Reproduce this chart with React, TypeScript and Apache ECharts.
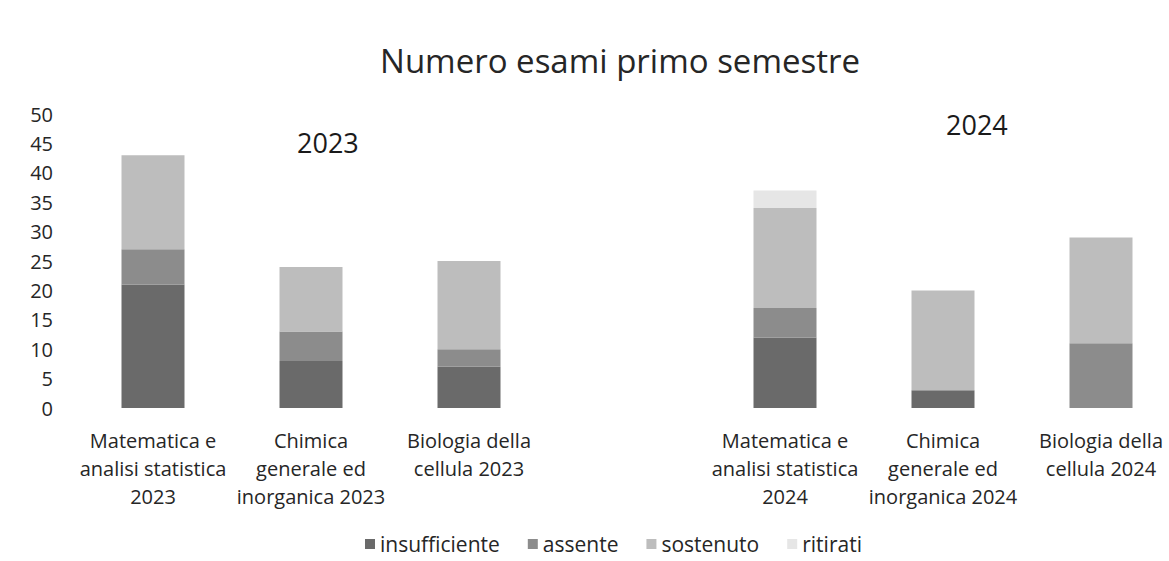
import React, { useEffect, useRef } from "react";
import * as echarts from "echarts";

const categories = [
  "Matematica e\nanalisi statistica\n2023",
  "Chimica\ngenerale ed\ninorganica 2023",
  "Biologia della\ncellula 2023",
  "",
  "Matematica e\nanalisi statistica\n2024",
  "Chimica\ngenerale ed\ninorganica 2024",
  "Biologia della\ncellula 2024",
];
const insufficiente = [21, 8, 7, null, 12, 3, 0];
const assente = [6, 5, 3, null, 5, 0, 11];
const sostenuto = [16, 11, 15, null, 17, 17, 18];
const ritirati = [0, 0, 0, null, 3, 0, 0];
const seriesNames = ["insufficiente", "assente", "sostenuto", "ritirati"];
const seriesColors = ["#6a6a6a", "#8c8c8c", "#bdbdbd", "#e6e6e6"];
const yearLabels = ["2023", "2024"];

const FONT = "'Open Sans', 'Noto Sans', sans-serif";
const TEXT = "#262626";

export default function App() {
  const ref = useRef<HTMLDivElement>(null);
  useEffect(() => {
    document.body.style.margin = "0";
    const chart = echarts.init(ref.current!, null, { renderer: "svg" });
    const values = [insufficiente, assente, sostenuto, ritirati];
    chart.setOption({
      animation: false,
      backgroundColor: "#ffffff",
      title: {
        text: "Numero esami primo semestre",
        left: 615,
        top: 39,
        textAlign: "center",
        textStyle: { fontFamily: FONT, fontSize: 33, fontWeight: "normal", color: TEXT },
      },
      legend: {
        left: 365,
        top: 533,
        padding: 0,
        itemWidth: 10,
        itemHeight: 10,
        itemGap: 28,
        icon: "rect",
        textStyle: { fontFamily: FONT, fontSize: 21, lineHeight: 22, color: TEXT },
        data: seriesNames,
      },
      grid: { left: 74, right: 10, top: 114, bottom: 153 },
      xAxis: {
        type: "category",
        data: categories,
        axisLine: { show: false },
        axisTick: { show: false },
        axisLabel: {
          interval: 0,
          margin: 18,
          fontFamily: FONT,
          fontSize: 20,
          lineHeight: 28,
          color: TEXT,
          align: "center",
        },
      },
      yAxis: {
        type: "value",
        min: 0,
        max: 50,
        interval: 5,
        splitLine: { show: false },
        axisLine: { show: false },
        axisTick: { show: false },
        axisLabel: { fontFamily: FONT, fontSize: 20, color: TEXT, margin: 21 },
      },
      graphic: [
        {
          type: "text",
          left: 297,
          top: 129,
          style: { text: yearLabels[0], fontFamily: FONT, fontSize: 27, fill: "#1a1a1a" },
        },
        {
          type: "text",
          left: 946,
          top: 111,
          style: { text: yearLabels[1], fontFamily: FONT, fontSize: 27, fill: "#1a1a1a" },
        },
      ],
      series: seriesNames.map((name, i) => ({
        name,
        type: "bar",
        stack: "total",
        barWidth: 63,
        itemStyle: { color: seriesColors[i] },
        data: values[i],
      })),
    });
    return () => chart.dispose();
  }, []);
  return (
    <div style={{ width: 1169, height: 561, overflow: "hidden", position: "relative" }}>
      <div ref={ref} style={{ width: 1190, height: 561 }} />
    </div>
  );
}
